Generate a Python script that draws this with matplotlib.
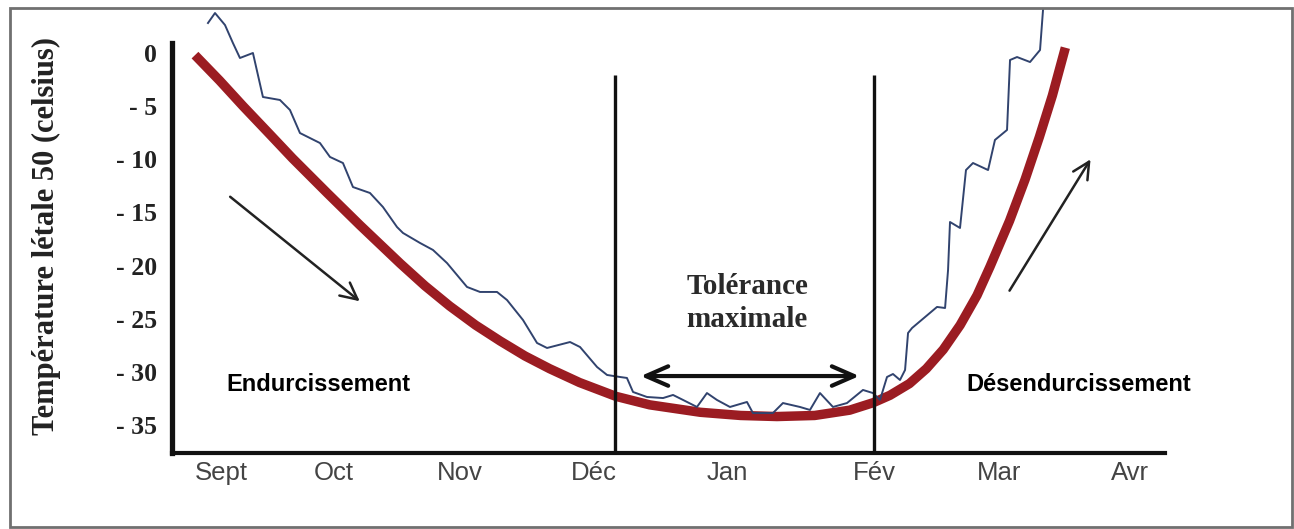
import matplotlib
matplotlib.use("Agg")
import matplotlib.pyplot as plt
from matplotlib.patches import Rectangle

# ---- data ----
months = ["Sept", "Oct", "Nov", "Déc", "Jan", "Fév", "Mar", "Avr"]
month_pos = [0.0, 0.87, 1.84, 2.87, 3.90, 5.03, 5.99, 7.0]

y_ticks = [0, -5, -10, -15, -20, -25, -30, -35]
y_tick_labels = ["0", "- 5", "- 10", "- 15", "- 20", "- 25", "- 30", "- 35"]

# smooth (red) LT50 curve: x in months since Sept, y in °C
red_x = [-0.20, -0.01, 0.17, 0.38, 0.55, 0.82, 1.07, 1.38, 1.57, 1.76, 1.96, 2.15,
         2.34, 2.53, 2.76, 3.04, 3.30, 3.69, 4.00, 4.28, 4.57, 4.84, 5.02, 5.15,
         5.30, 5.43, 5.56, 5.69, 5.82, 5.92, 6.07, 6.19, 6.30, 6.40, 6.50]
red_y = [-0.2, -2.6, -5.0, -7.7, -9.9, -13.2, -16.2, -19.8, -21.9, -23.8, -25.6, -27.1,
         -28.5, -29.7, -31.0, -32.3, -33.1, -33.8, -34.1, -34.2, -34.1, -33.6, -32.9, -32.2,
         -31.1, -29.7, -27.9, -25.6, -22.8, -20.1, -15.8, -11.9, -7.9, -4.0, 0.5]

# measured (blue) curve
blue_x = [-0.100, -0.046, 0.031, 0.092, 0.146, 0.246, 0.323, 0.454, 0.531, 0.608,
          0.762, 0.839, 0.939, 1.016, 1.147, 1.247, 1.355, 1.401, 1.532, 1.632,
          1.740, 1.894, 1.994, 2.125, 2.202, 2.325, 2.433, 2.510, 2.687, 2.764,
          2.895, 2.972, 3.072, 3.125, 3.172, 3.279, 3.403, 3.480, 3.557, 3.664,
          3.741, 3.818, 3.918, 4.049, 4.095, 4.249, 4.326, 4.457, 4.534, 4.611,
          4.711, 4.819, 4.942, 5.019, 5.073, 5.127, 5.173, 5.227, 5.266, 5.289,
          5.320, 5.512, 5.574, 5.597, 5.612, 5.689, 5.735, 5.789, 5.905, 5.958,
          6.051, 6.074, 6.128, 6.228, 6.305, 6.328]
blue_y = [2.82, 3.76, 2.63, 0.94, -0.47, 0.0, -4.14, -4.42, -5.36, -7.53,
          -8.47, -9.78, -10.35, -12.61, -13.17, -14.49, -16.37, -16.93, -17.87, -18.53,
          -19.76, -22.01, -22.48, -22.48, -23.24, -25.12, -27.28, -27.75, -27.19, -27.66,
          -29.54, -30.29, -30.48, -30.57, -31.89, -32.36, -32.46, -32.17, -32.64, -33.30,
          -31.99, -32.64, -33.30, -32.83, -33.87, -33.87, -32.93, -33.30, -33.58, -31.99,
          -33.30, -32.93, -31.70, -31.99, -32.64, -30.48, -30.20, -30.76, -29.82, -26.34,
          -25.87, -23.89, -23.99, -20.41, -15.90, -16.46, -11.01, -10.35, -11.01, -8.18,
          -7.24, -0.66, -0.38, -0.85, 0.28, 4.05]

phase_lines = [3.033, 5.027]

# ---- figure ----
W, H = 1294, 529
fig = plt.figure(figsize=(W / 100, H / 100), dpi=100)
fig.patch.set_facecolor("white")

ax = fig.add_axes([172 / W, 1 - 453 / H, (1165 - 172) / W, (453 - 43) / H])
ax.set_xlim(-0.377, 7.267)
ax.set_ylim(-37.63, 0.94)

for s in ["top", "right"]:
    ax.spines[s].set_visible(False)
ax.spines["left"].set_linewidth(3.8)
ax.spines["bottom"].set_linewidth(3.0)
ax.spines["left"].set_color("#111111")
ax.spines["bottom"].set_color("#111111")

ax.set_yticks(y_ticks)
ax.set_yticklabels(y_tick_labels, fontfamily="Liberation Serif", fontweight="bold",
                   fontsize=18.5, color="#222222")
ax.set_xticks(month_pos)
ax.set_xticklabels(months, fontfamily="Liberation Sans", fontsize=18.5, color="#444444")
ax.tick_params(axis="y", length=0, pad=11)
ax.tick_params(axis="x", length=0, pad=6)

ax.plot(red_x, red_y, color="#9b1c22", lw=6.8, solid_capstyle="butt",
        solid_joinstyle="round", zorder=2)
ax.plot(blue_x, blue_y, color="#31436e", lw=1.4, zorder=3, clip_on=False)

ax.vlines(phase_lines, -37.63, -2.07, colors="#111111", lw=2.4, zorder=4)

# arrows
ax.annotate("", xy=(1.085, -23.52), xytext=(0.054, -13.36),
            arrowprops=dict(arrowstyle="->,head_length=0.6,head_width=0.3",
                            lw=1.8, color="#222222", mutation_scale=20))
ax.annotate("", xy=(6.705, -9.78), xytext=(6.059, -22.58),
            arrowprops=dict(arrowstyle="->,head_length=0.6,head_width=0.3",
                            lw=1.8, color="#222222", mutation_scale=20))
ax.annotate("", xy=(4.935, -30.39), xytext=(3.21, -30.39),
            arrowprops=dict(arrowstyle="<->,head_length=0.8,head_width=0.35",
                            lw=3.0, color="#111111", mutation_scale=20))

ax.text(0.754, -31.14, "Endurcissement", ha="center", va="center",
        fontfamily="Liberation Sans", fontweight="bold", fontsize=17, color="black")
ax.text(6.605, -31.14, "Désendurcissement", ha="center", va="center",
        fontfamily="Liberation Sans", fontweight="bold", fontsize=17, color="black")
ax.text(4.05, -23.55, "Tolérance\nmaximale", ha="center", va="center",
        fontfamily="Liberation Serif", fontweight="bold", fontsize=21,
        color="#2a2a2a", linespacing=1.3)

fig.text(46 / W, 1 - 236 / H, "Température létale 50 (celsius)", rotation=90,
         ha="center", va="center", fontfamily="Liberation Serif", fontweight="bold",
         fontsize=22, color="#222222")

# outer frame
fig.patches.append(Rectangle((10 / W, 1 - 527 / H), (1292 - 10) / W, (527 - 8) / H,
                             transform=fig.transFigure, fill=False,
                             edgecolor="#707070", lw=2.0))

fig.savefig("out.png", dpi=100)
